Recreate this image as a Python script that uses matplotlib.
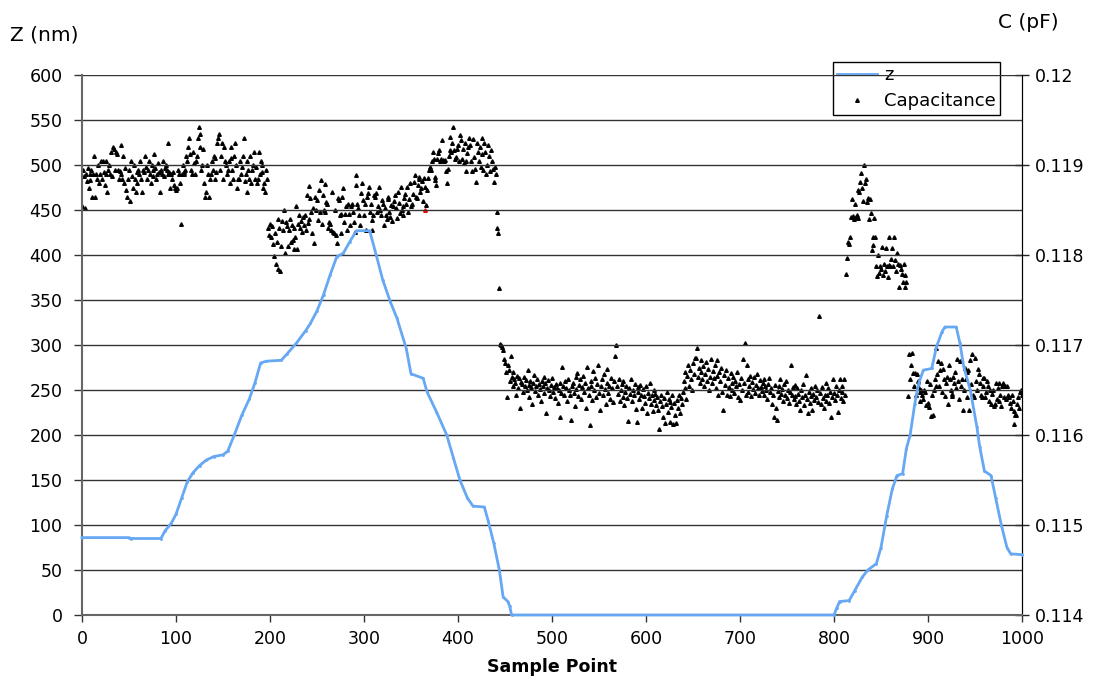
import numpy as np
import matplotlib
matplotlib.use("Agg")
from matplotlib import pyplot as plt

# z profile (sample point, nm) - corners of the traced curve
z_x = [0, 50, 52, 84, 88, 95, 100, 106, 112, 118, 125, 132, 140, 150, 155, 162, 170, 178, 184, 190,
       196, 212, 218, 228, 238, 243, 250, 257, 264, 271, 278, 285, 292, 306, 313, 320, 328, 335, 345, 350,
       363, 367, 377, 388, 395, 402, 410, 416, 428, 432, 438, 444, 448, 453, 455, 457, 800, 803, 806, 816,
       822, 830, 836, 845, 850, 856, 862, 867, 873, 877, 881, 886, 890, 895, 904, 909, 915, 918, 930, 934,
       938, 945, 952, 955, 960, 967, 972, 978, 984, 988, 1000]
z_nm = [86, 86, 85, 85, 93, 102, 112, 130, 148, 158, 166, 172, 176, 178, 182, 200, 222, 240, 258, 280,
        282, 283, 290, 302, 316, 324, 338, 356, 378, 398, 402, 415, 427, 427, 400, 372, 348, 330, 296, 268,
        263, 248, 226, 200, 175, 150, 130, 121, 120, 105, 80, 50, 20, 15, 10, 0, 0, 8, 15, 16,
        27, 42, 50, 57, 75, 110, 140, 155, 157, 185, 200, 235, 257, 272, 274, 298, 315, 320, 320, 302,
        276, 250, 209, 187, 160, 155, 130, 100, 75, 68, 67]

# capacitance in fF, one value per sample point, by segment start
cap_seg1_start = 0
cap_seg1 = [118.55, 118.95, 118.88, 118.52, 118.9, 118.82, 118.97, 118.75, 118.9, 118.83, 118.95, 118.65, 118.9, 119.1, 118.65, 118.9, 118.85, 119.0, 118.8, 118.9,
            119.05, 118.85, 119.05, 118.92, 118.78, 119.05, 118.9, 118.7, 118.95, 119.0, 118.9, 119.15, 118.88, 119.2, 119.18, 118.95, 119.15, 119.12, 118.95, 118.85,
            118.93, 119.22, 118.9, 118.85, 119.1, 118.8, 118.97, 118.72, 118.65, 118.85, 118.95, 118.6, 119.05, 118.88, 118.75, 119.0, 118.85, 118.7, 118.92, 118.8,
            118.95, 118.9, 119.05, 118.85, 118.7, 118.95, 118.92, 119.1, 118.98, 118.85, 118.95, 119.05, 118.9, 118.8, 119.0, 118.95, 118.88, 119.12, 118.97, 118.85,
            118.9, 119.02, 118.92, 118.7, 118.95, 118.9, 119.05, 118.88, 118.97, 119.0, 118.95, 119.25, 118.9, 118.92, 118.75, 118.9, 118.85, 118.92, 118.78, 118.74,
            118.72, 118.75, 118.95, 118.9, 118.8, 118.35, 118.9, 119.0, 118.92, 118.9, 118.95, 119.1, 119.05, 119.2, 119.3, 119.12, 118.95, 118.9, 119.15, 119.02,
            118.9, 119.05, 119.1, 119.3, 119.42, 119.2, 119.35, 118.95, 119.0, 119.18, 118.8, 118.65, 118.7, 119.0, 118.9, 118.65, 118.85, 118.9, 119.05, 118.95,
            119.1, 119.08, 118.85, 118.92, 119.25, 119.3, 119.35, 118.95, 119.1, 119.25, 118.85, 119.2, 119.05, 119.0, 118.9, 118.95, 119.05, 118.8, 119.2, 119.08,
            118.95, 118.85, 119.1, 119.25, 119.0, 118.75, 118.85, 118.85, 119.05, 118.9, 118.98, 119.1, 119.3, 118.82, 118.9, 118.7, 119.05, 118.95, 118.85, 119.1,
            118.8, 118.95, 119.0, 119.15, 118.85, 118.98, 118.8, 118.85, 119.15, 118.9, 119.05, 119.0, 118.92, 118.75, 118.8, 118.7, 118.95, 118.85]

cap_seg2_start = 198
cap_seg2 = [118.30, 118.22, 118.35, 118.20, 118.32, 118.12, 117.99, 118.25, 117.90, 118.15, 118.40, 117.85, 118.30, 117.82, 118.10, 118.38, 118.28, 118.50, 118.02, 118.37,
            118.32, 118.10, 118.28, 118.40, 118.15, 118.33, 118.17, 118.07, 118.30, 118.20, 118.54, 118.07, 118.35, 118.44, 118.30, 118.38, 118.26, 118.42, 118.33, 118.45,
            118.28, 118.67, 118.36, 118.40, 118.77, 118.63, 118.48, 118.24, 118.52, 118.13, 118.65, 118.50, 118.61, 118.39, 118.72, 118.48, 118.83, 118.35, 118.67, 118.50,
            118.79, 118.48, 118.59, 118.57, 118.30, 118.37, 118.35, 118.28, 118.70, 118.26, 118.24, 118.50, 118.22, 118.13, 118.63, 118.61, 118.44, 118.46, 118.24, 118.65,
            118.74, 118.37, 118.46, 118.54, 118.28, 118.57, 118.46, 118.33, 118.54, 118.57, 118.48, 118.37, 118.26, 118.78, 118.89, 118.57, 118.52, 118.44, 118.33, 118.69,
            118.80, 118.61, 118.44, 118.57, 118.28, 118.65, 118.69, 118.76, 118.48, 118.57, 118.39, 118.28, 118.44, 118.67, 118.65, 118.69, 118.48, 118.54, 118.76, 118.50,
            118.44, 118.61, 118.57, 118.33, 118.52, 118.45, 118.40, 118.65, 118.62, 118.48, 118.42, 118.56, 118.38, 118.55, 118.60, 118.67, 118.52, 118.41, 118.70, 118.58,
            118.47, 118.76, 118.50, 118.55, 118.45, 118.63, 118.68, 118.57, 118.76, 118.48, 118.62, 118.80, 118.54, 118.57, 118.68, 118.81, 118.89, 118.65, 118.63, 118.78,
            118.85, 118.87, 118.70, 118.75, 118.82, 118.60, 118.86, 118.76, 118.56, 118.72, 118.86, 118.94, 118.98]

cap_seg3_start = 371
cap_seg3 = [118.94, 119.04, 119.15, 119.07, 118.87, 118.83, 118.78, 119.07, 119.13, 119.17, 119.04, 119.07, 119.28, 119.06, 119.04, 119.06, 118.93, 118.80, 118.96, 119.10,
            119.17, 119.31, 119.15, 119.24, 119.42, 119.17, 119.07, 119.09, 119.18, 119.22, 119.04, 119.33, 119.28, 119.07, 119.18, 119.02, 119.24, 119.04, 118.93, 119.13,
            119.20, 119.30, 119.22, 119.04, 118.93, 119.29, 119.09, 118.96, 118.81, 119.24, 119.15, 119.05, 119.20, 118.98, 119.30, 119.12, 118.95, 119.25, 119.14, 118.90,
            119.00, 119.22, 119.10, 118.93, 119.17, 119.05, 118.96, 118.81, 118.98, 118.90, 118.48, 118.30, 118.25, 117.63, 117.01, 117.00, 116.98, 116.95, 116.85, 116.80,
            116.70, 116.42]

cap_seg4_start = 453
cap_seg4 = [116.78, 116.72, 116.60, 116.88, 116.65, 116.55, 116.70, 116.62, 116.58, 116.45, 116.66, 116.52, 116.63, 116.30, 116.59, 116.57, 116.48, 116.64, 116.55, 116.61,
            116.50, 116.72, 116.56, 116.42, 116.60, 116.53, 116.35, 116.58, 116.67, 116.49, 116.55, 116.62, 116.44, 116.57, 116.51, 116.38, 116.60, 116.54, 116.47, 116.65,
            116.58, 116.25, 116.52, 116.61, 116.50, 116.43, 116.56, 116.63, 116.48, 116.53, 116.41, 116.57, 116.52, 116.36, 116.50, 116.20, 116.58, 116.47, 116.76, 116.55,
            116.45, 116.60, 116.52, 116.38, 116.62, 116.50, 116.44, 116.17, 116.55, 116.58, 116.47, 116.32, 116.64, 116.51, 116.69, 116.43, 116.56, 116.62, 116.40, 116.53,
            116.66, 116.48, 116.58, 116.30, 116.76, 116.52, 116.45, 116.11, 116.60, 116.54, 116.39, 116.71, 116.50, 116.63, 116.42, 116.57, 116.78, 116.47, 116.28, 116.55,
            116.62, 116.44, 116.68, 116.51, 116.35, 116.58, 116.73, 116.47, 116.55, 116.40, 116.63, 116.52, 116.37, 116.60, 116.88, 117.00, 116.55, 116.46, 116.62, 116.38,
            116.50, 116.57, 116.42, 116.60, 116.33, 116.48, 116.55, 116.41, 116.16, 116.52, 116.46, 116.62, 116.38, 116.50, 116.44, 116.57, 116.29, 116.15, 116.48, 116.53,
            116.40, 116.56, 116.45, 116.30, 116.51, 116.43, 116.36, 116.55, 116.24, 116.47, 116.41, 116.58, 116.35, 116.44, 116.27, 116.50, 116.39, 116.46, 116.33, 116.42,
            116.28, 116.07, 116.38, 116.45, 116.32, 116.20, 116.41, 116.13, 116.35, 116.48, 116.26, 116.40, 116.15, 116.37, 116.31, 116.44, 116.12, 116.36, 116.22, 116.13,
            116.39, 116.30, 116.45, 116.25, 116.41, 116.34, 116.48, 116.60, 116.52, 116.70, 116.40, 116.66, 116.78, 116.55, 116.72, 116.62, 116.50, 116.80, 116.68, 116.86,
            116.86, 116.97, 116.64, 116.75, 116.58, 116.70, 116.83, 116.62, 116.77, 116.55, 116.68, 116.81, 116.60, 116.73, 116.50, 116.65, 116.84, 116.58, 116.71, 116.63,
            116.78, 116.52, 116.66, 116.83, 116.45, 116.70, 116.60, 116.74, 116.48, 116.28, 116.67, 116.56, 116.72, 116.44, 116.63, 116.53, 116.43, 116.69, 116.58, 116.50,
            116.65, 116.47, 116.60, 116.54, 116.70, 116.42, 116.57, 116.39, 116.63, 116.50, 116.84, 116.58, 117.02, 116.45, 116.78, 116.62, 116.48, 116.55, 116.66, 116.43,
            116.59, 116.51, 116.64, 116.47, 116.56, 116.68, 116.52, 116.45, 116.61, 116.53, 116.49, 116.58, 116.62, 116.44, 116.55, 116.50, 116.40, 116.57, 116.63, 116.48,
            116.52, 116.35, 116.45, 116.20, 116.56, 116.30, 116.17, 116.49, 116.54, 116.42, 116.62, 116.46, 116.51, 116.38, 116.57, 116.44, 116.60, 116.41, 116.50, 116.36,
            116.48, 116.78, 116.45, 116.53, 116.40, 116.56, 116.43, 116.35, 116.52, 116.46, 116.38, 116.28, 116.50, 116.42, 116.57, 116.33, 116.45, 116.67, 116.40, 116.25,
            116.48, 116.36, 116.52, 116.43, 116.28, 116.46, 116.39, 116.55, 116.42, 116.50, 116.37, 117.32, 116.47, 116.35, 116.53, 116.41, 116.30, 116.44, 116.58, 116.38,
            116.45, 116.52, 116.36, 116.48, 116.20, 116.42, 116.62, 116.47, 116.39, 116.55, 116.44, 116.26, 116.50, 116.62, 116.41, 116.48, 116.55, 116.38, 116.62, 116.45]

cap_seg5_start = 813
cap_seg5 = [117.79, 117.97, 118.15, 118.12, 118.20, 118.42, 118.62, 118.43, 118.40, 118.57, 118.42, 118.45, 118.72, 118.41, 118.70, 118.81, 118.91, 118.75, 118.60, 119.00,
            118.80, 118.85, 118.59, 118.63, 118.40, 118.62, 118.47, 118.06, 118.20, 118.11, 118.41, 118.20, 117.88, 117.77, 118.00, 117.80, 117.88, 117.85, 118.09, 117.78,
            117.90, 117.82, 118.08, 117.88, 117.76, 118.20, 117.89, 117.88, 117.96, 118.08, 117.88, 118.20, 117.95, 117.82, 118.02, 117.90, 117.65, 117.89, 117.85, 117.79,
            117.70, 117.90, 117.78, 117.65, 117.70]

cap_seg6_start = 879
cap_seg6 = [116.43, 116.90, 116.62, 116.78, 116.91, 116.69, 116.55, 116.69, 116.45, 116.68, 116.60, 116.52, 116.48, 116.38, 116.50, 116.45, 116.40, 116.50, 116.48, 116.33,
            116.60, 116.36, 116.31, 116.57, 116.21, 116.45, 116.22, 116.50, 116.62, 116.55, 116.97, 116.68, 116.82, 116.55, 116.72, 116.80, 116.48, 116.73, 116.62, 116.43,
            116.58, 116.65, 116.35, 116.78, 116.62, 116.50, 116.46, 116.43, 116.64, 116.58, 116.70, 116.52, 116.84, 116.60, 116.40, 116.82, 116.55, 116.62, 116.28, 116.50,
            116.75, 116.62, 116.42, 116.70, 116.72, 116.28, 116.83, 116.57, 116.90, 116.45, 116.42, 116.86, 116.60, 116.50, 116.73, 116.68, 116.58, 116.45, 116.42, 116.63,
            116.55, 116.63, 116.42, 116.48, 116.60, 116.54, 116.38, 116.50, 116.35, 116.46, 116.50, 116.32, 116.35, 116.58, 116.40, 116.52, 116.58, 116.38, 116.45, 116.32,
            116.55, 116.58, 116.42, 116.54, 116.40, 116.54, 116.45, 116.42, 116.36, 116.30, 116.44, 116.38, 116.12, 116.27, 116.22, 116.22, 116.35, 116.42, 116.30, 116.48,
            116.50, 116.45]

# the one red point
red_x = [365]
red_ff = [118.50]

segments = [(cap_seg1_start, cap_seg1), (cap_seg2_start, cap_seg2), (cap_seg3_start, cap_seg3),
            (cap_seg4_start, cap_seg4), (cap_seg5_start, cap_seg5), (cap_seg6_start, cap_seg6)]
cap_x = np.concatenate([np.arange(s, s + len(v)) for s, v in segments])
cap_pf = np.concatenate([np.array(v) for s, v in segments]) / 1000.0

plt.rcParams['font.family'] = ['DejaVu Sans']
plt.rcParams['font.size'] = 12.5

fig = plt.figure(figsize=(11, 6.76), dpi=100)
ax = fig.add_axes([82 / 1100, 61 / 676, 940 / 1100, 540 / 676])
ax2 = ax.twinx()

blue = '#66A8F4'
ax.set_zorder(2)
ax.patch.set_visible(False)
lz, = ax.plot(z_x, z_nm, color=blue, lw=2.0, marker='.', ms=2, label='z', zorder=4, clip_on=False)

lc, = ax2.plot(cap_x, cap_pf, linestyle='none', marker='^', ms=2.6, color='black', label='Capacitance')
ax2.plot(red_x, np.array(red_ff) / 1000.0, linestyle='none', marker='^', ms=2.6, color='red')

ax.set_xlim(0, 1000)
ax.set_ylim(0, 600)
ax2.set_ylim(0.114, 0.120)
ax.set_xticks(np.arange(0, 1001, 100))
ax.set_yticks(np.arange(0, 601, 50))
ax2.set_yticks(np.arange(0.114, 0.12005, 0.001))
ax2.set_yticklabels(['0.114', '0.115', '0.116', '0.117', '0.118', '0.119', '0.12'])

ax.yaxis.grid(True, color='#333333', lw=1.0)
ax.set_axisbelow(True)

for a in (ax, ax2):
    a.spines['top'].set_visible(False)
ax.spines['left'].set_color('#666666')
ax.spines['left'].set_linewidth(1.5)
ax.spines['bottom'].set_color('#666666')
ax.spines['bottom'].set_linewidth(1.5)
ax2.spines['right'].set_color('#222222')
ax2.spines['left'].set_visible(False)
ax2.spines['bottom'].set_visible(False)

ax.tick_params(axis='y', direction='out', length=6, width=1, color='#333333', pad=8)
ax.tick_params(axis='x', direction='out', length=5, width=1, color='#333333', pad=6)
ax2.tick_params(axis='y', direction='inout', length=10, width=1, color='#222222', pad=4)

fig.text(10 / 1100, 1 - 35 / 676, 'Z (nm)', fontsize=14.5, va='center', ha='left')
fig.text(998 / 1100, 1 - 22 / 676, 'C (pF)', fontsize=14.5, va='center', ha='left')
fig.text(552 / 1100, 1 - 667 / 676, 'Sample Point', fontsize=12.5, fontweight='bold', va='center', ha='center')

leg = ax2.legend(handles=[lz, lc], loc='upper right', bbox_to_anchor=(0.977, 1.025),
                 borderaxespad=0, fancybox=False, framealpha=1, edgecolor='black',
                 handlelength=2.2, handletextpad=0.4, borderpad=0.25, labelspacing=0.45,
                 fontsize=13)
leg.get_frame().set_linewidth(1.0)
leg.set_zorder(5)

fig.savefig('out.png', dpi=100)
